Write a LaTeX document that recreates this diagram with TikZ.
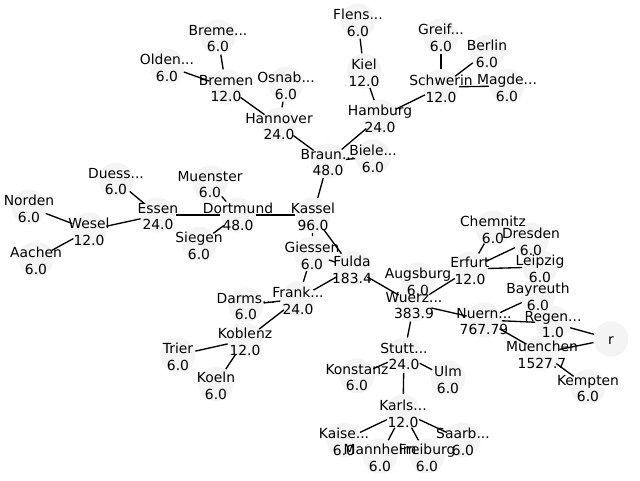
\documentclass[tikz,border=0pt]{standalone}
\usepackage{fontspec}
\setmainfont{DejaVu Sans}
\pgfdeclarelayer{background}
\pgfsetlayers{background,main}
\definecolor{nodegrey}{RGB}{244,244,244}
% three periods marking a shortened city name
\newcommand\trail{...}
% name / x / y / city / weight
\def\citylist{%
  breme/218/37/Breme\trail/6.0,
  olden/167/66/Olden\trail/6.0,
  bremen/226/87/Bremen/12.0,
  osnab/286/84/Osnab\trail/6.0,
  hannover/279/125/Hannover/24.0,
  flens/358/21/Flens\trail/6.0,
  kiel/364/71/Kiel/12.0,
  greif/441/36/Greif\trail/6.0,
  berlin/487/52/Berlin/6.0,
  schwerin/441/87/Schwerin/12.0,
  magde/507/86/Magde\trail/6.0,
  hamburg/380/117/Hamburg/24.0,
  braun/328/161/Braun\trail/48.0,
  biele/373/157/Biele\trail/6.0,
  kassel/313/215/Kassel/96.0,
  giessen/312/254/Giessen/6.0,
  fulda/352/268/Fulda/183.4,
  frank/298/299/Frank\trail/24.0,
  augsburg/418/280/Augsburg/6.0,
  wuerz/414/304/Wuerz\trail/383.9,
  duess/116/180/Duess\trail/6.0,
  norden/29/207/Norden/6.0,
  muenster/210/183/Muenster/6.0,
  essen/158/215/Essen/24.0,
  dortmund/238/215/Dortmund/48.0,
  wesel/89/230/Wesel/12.0,
  siegen/199/244/Siegen/6.0,
  aachen/36/259/Aachen/6.0,
  darms/246/305/Darms\trail/6.0,
  koblenz/245/340/Koblenz/12.0,
  trier/178/355/Trier/6.0,
  koeln/216/384/Koeln/6.0,
  chemnitz/493/228/Chemnitz/6.0,
  dresden/531/240/Dresden/6.0,
  erfurt/470/269/Erfurt/12.0,
  leipzig/540/267/Leipzig/6.0,
  bayreuth/538/295/Bayreuth/6.0,
  nuern/484/320/Nuern\trail/767.79,
  regen/553/323/Regen\trail/1.0,
  muenchen/542/353/Muenchen/1527.7,
  kempten/588/387/Kempten/6.0,
  stutt/404/355/Stutt\trail/24.0,
  konstanz/357/376/Konstanz/6.0,
  ulm/448/378/Ulm/6.0,
  karls/403/412/Karls\trail/12.0,
  kaise/344/440/Kaise\trail/6.0,
  mannheim/380/456/Mannheim/6.0,
  freiburg/427/456/Freiburg/6.0,
  saarb/463/440/Saarb\trail/6.0}
\begin{document}
\begin{tikzpicture}[x=0.75pt,y=-0.75pt,
  city/.style={circle,fill=nodegrey,inner sep=0pt,minimum size=26.25pt},
  cityname/.style={align=center,inner sep=0pt,yshift=-1.2pt,
    font=\fontsize{10.4pt}{12.5pt}\selectfont},
  link/.style={line width=1pt,black}]
\useasboundingbox (0,0) rectangle (640,480);

% discs
\foreach \n/\x/\y/\a/\b in \citylist
  \node[city] (\n) at (\x,\y) {};
\node[city] (r) at (611,339) {};

% connections, kept beneath the discs
\begin{pgfonlayer}{background}
\foreach \u/\v in {breme/bremen, olden/bremen, bremen/hannover, osnab/hannover,
    hannover/braun, flens/kiel, kiel/hamburg, greif/schwerin, berlin/schwerin,
    magde/schwerin, schwerin/hamburg, hamburg/braun, biele/braun, braun/kassel,
    kassel/dortmund, dortmund/essen, muenster/dortmund, siegen/dortmund,
    duess/essen, essen/wesel, norden/wesel, aachen/wesel, kassel/fulda,
    kassel/giessen, giessen/fulda, giessen/frank, frank/fulda, darms/frank,
    frank/koblenz, koblenz/trier, koblenz/koeln, fulda/wuerz, erfurt/wuerz,
    augsburg/wuerz, chemnitz/erfurt, dresden/erfurt, leipzig/erfurt,
    wuerz/nuern, wuerz/stutt, bayreuth/nuern, nuern/regen, nuern/muenchen,
    regen/r, muenchen/r, muenchen/kempten, stutt/konstanz, stutt/ulm,
    stutt/karls, karls/kaise, karls/mannheim, karls/freiburg, karls/saarb}
  \draw[link] (\u) -- (\v);
\end{pgfonlayer}

% labels on top of everything
\foreach \n/\x/\y/\a/\b in \citylist
  \node[cityname] (\n-name) at (\n) {\a\\\b};
\node[cityname] (r-name) at (r) {r};
\end{tikzpicture}
\end{document}
